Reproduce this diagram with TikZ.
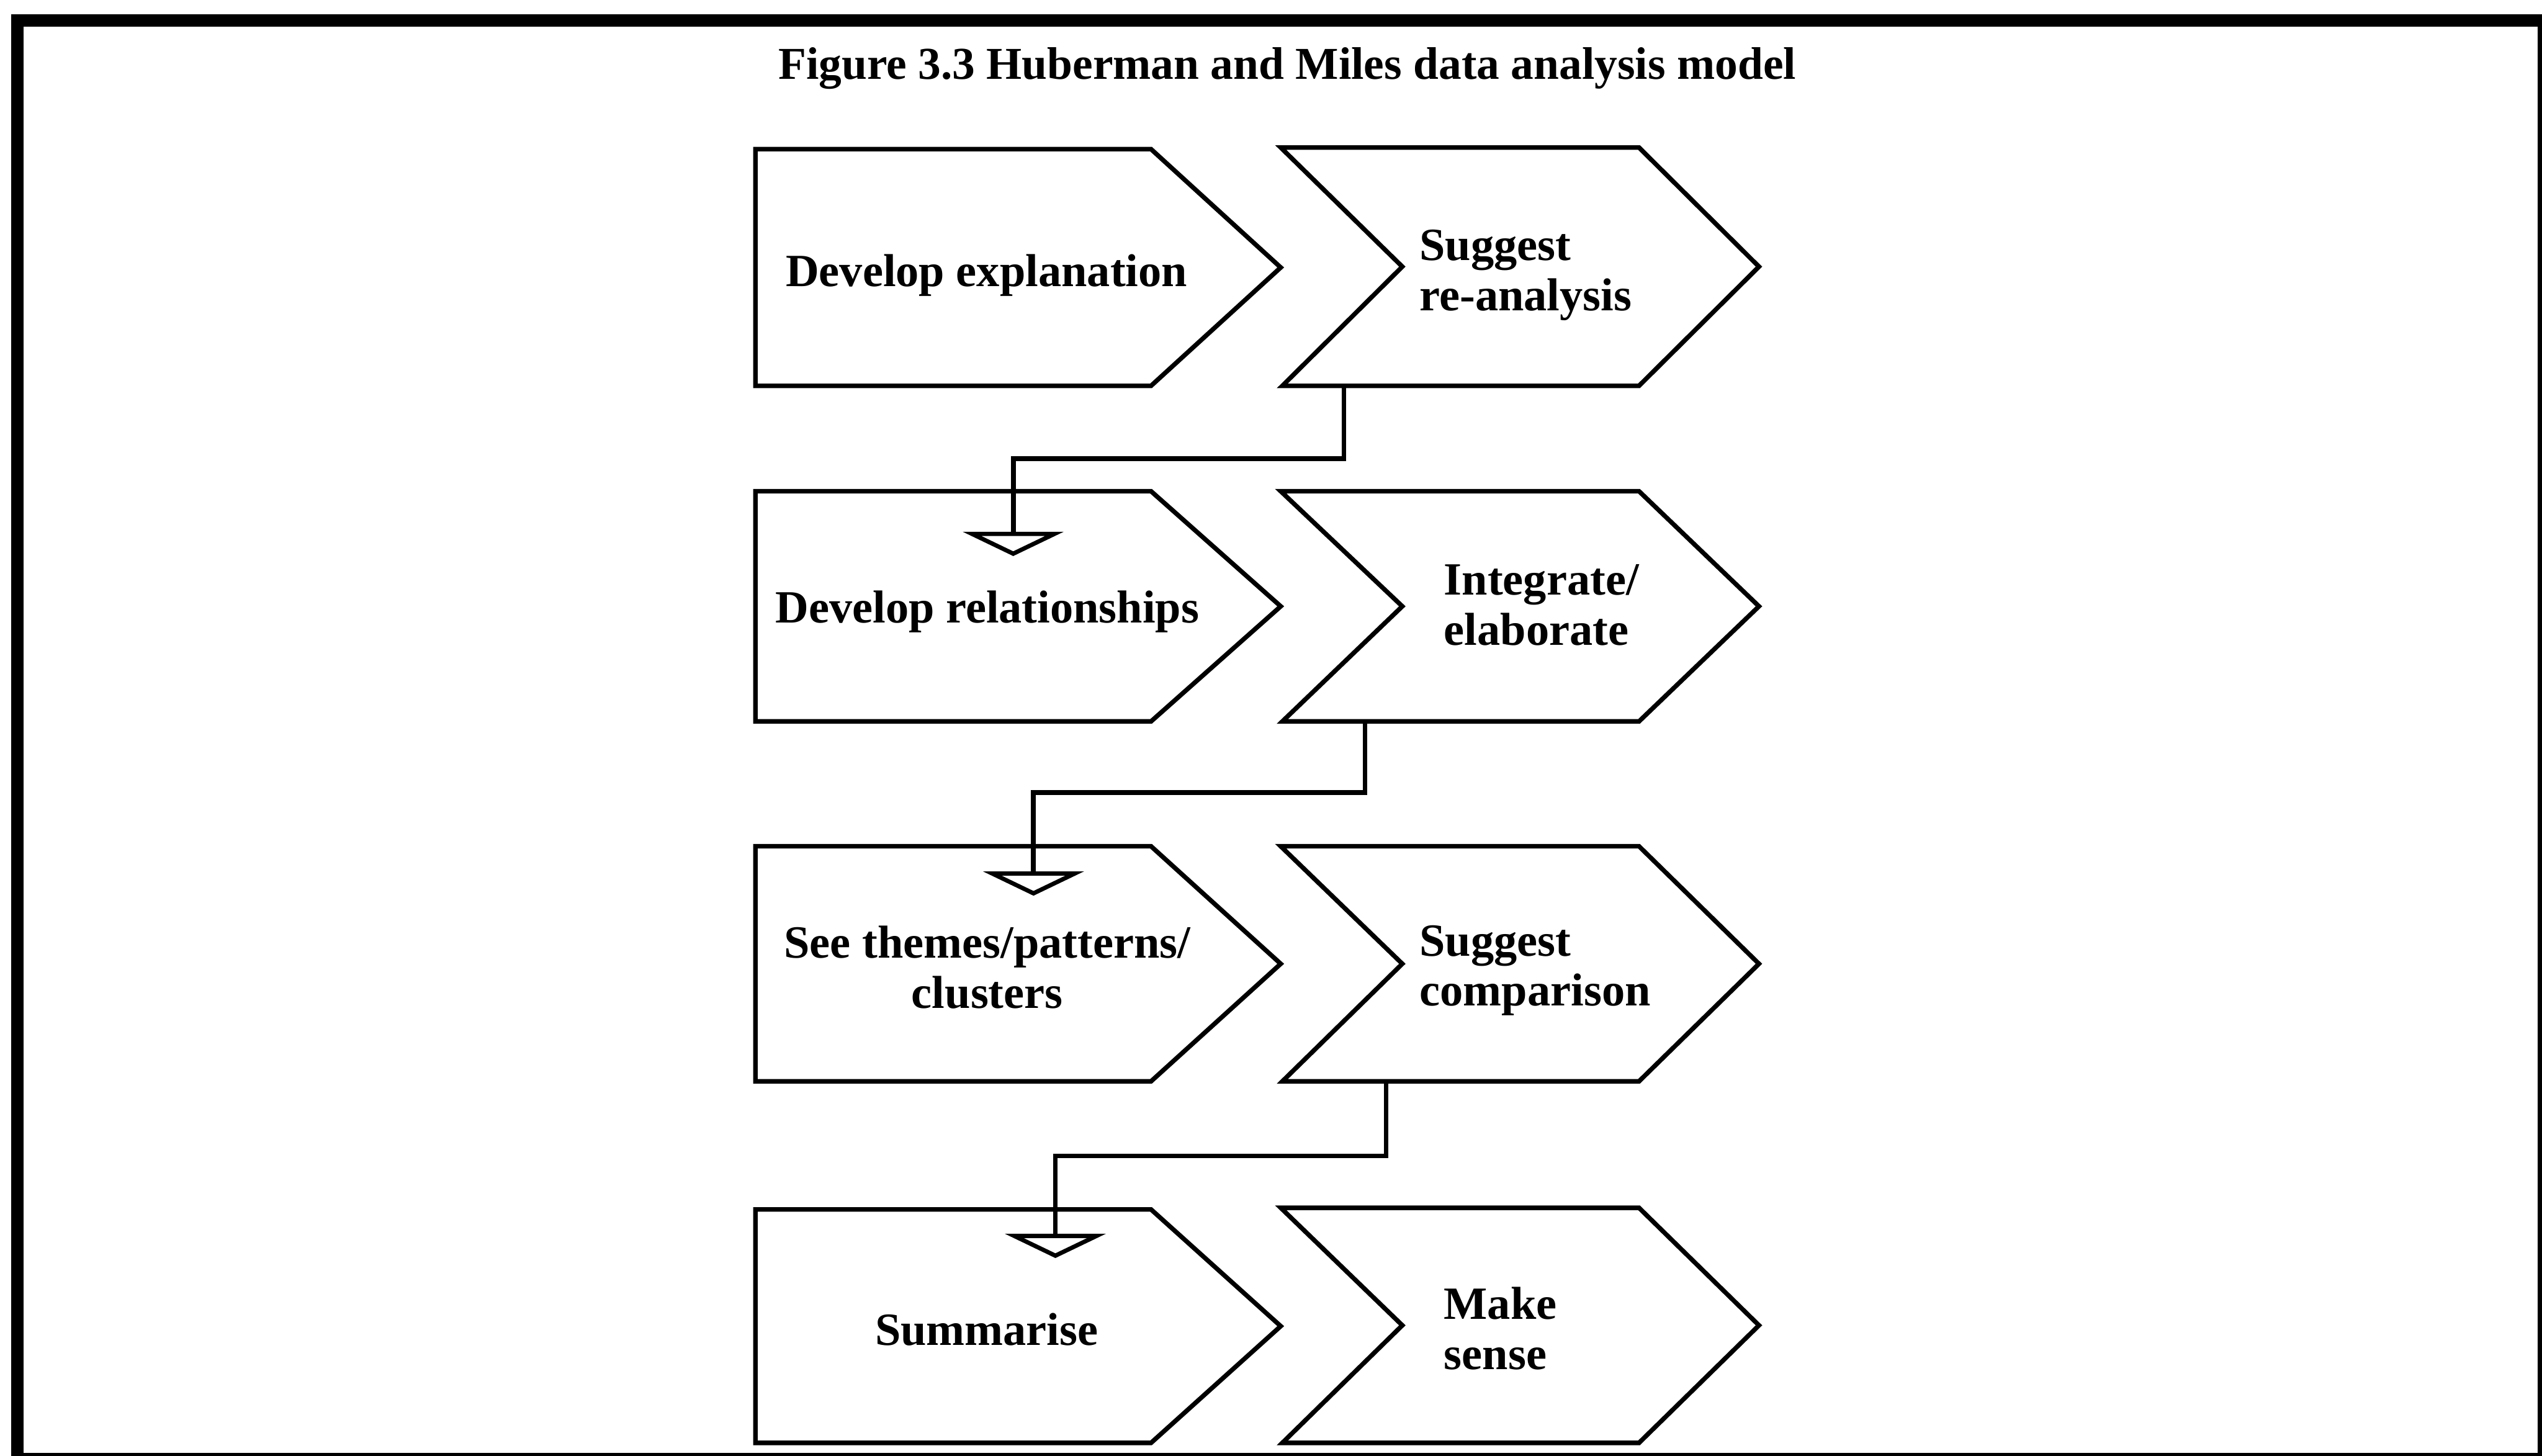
\documentclass[tikz,border=0pt]{standalone}
\usepackage{fontspec}
\setmainfont{Liberation Serif}
\usetikzlibrary{arrows.meta}

% flat-backed arrow box on the left of each row
\newcommand\leftstep[3]{% name, top, bottom
  \draw[stepline] (466,#2) -- (710,#2) -- (790,{(#2+#3)/2}) -- (710,#3) -- (466,#3) -- cycle;
}
% notched chevron on the right of each row
\newcommand\rightstep[3]{% name, top, bottom
  \draw[stepline] (790,#2) -- (1011,#2) -- (1085,{(#2+#3)/2}) -- (1011,#3) -- (791,#3) -- (865,{(#2+#3)/2}) -- cycle;
}

\begin{document}
\begin{tikzpicture}[x=0.01cm,y=-0.01cm,
  stepline/.style={line width=0.8pt, line join=miter},
  conn/.style={line width=0.85pt,
    -{Triangle[open, length=0.15cm, width=0.62cm, line width=0.75pt]}},
  lbl/.style={font=\bfseries\fontsize{8.1}{8.8}\selectfont, inner sep=0pt},
  ttl/.style={font=\bfseries\fontsize{8}{9}\selectfont, inner sep=0pt},
  frame/.style={line width=2.2pt}]
\useasboundingbox (0,0) rectangle (1568,898);

% outer frame
\draw[frame] (10.8,12.6) rectangle (1569,900);

% title
\node[ttl, anchor=base] (title) at (794,49) {Figure 3.3 Huberman and Miles data analysis model};

% rows of steps
\leftstep{l1}{92}{238}
\rightstep{r1}{91}{238}
\leftstep{l2}{303}{445}
\rightstep{r2}{303}{445}
\leftstep{l3}{522}{667}
\rightstep{r3}{522}{667}
\leftstep{l4}{746}{890}
\rightstep{r4}{745}{890}

% labels (two-line labels are placed by the baseline of their last line)
\node[lbl, anchor=base] (t1) at (608.5,176.6) {Develop explanation};
\node[lbl, anchor=base west, align=left] (u1) at (875,191.5) {Suggest\\re-analysis};
\node[lbl, anchor=base] (t2) at (609,384) {Develop relationships};
\node[lbl, anchor=base west, align=left] (u2) at (890,398) {Integrate/\\elaborate};
\node[lbl, anchor=base, align=center] (t3) at (609,621.8) {See themes/patterns/\\clusters};
\node[lbl, anchor=base west, align=left] (u3) at (875,620.5) {Suggest\\comparison};
\node[lbl, anchor=base] (t4) at (608.6,829.6) {Summarise};
\node[lbl, anchor=base west, align=left] (u4) at (890,844.8) {Make\\sense};

% connector end points
\coordinate (r1out) at (829,238);
\coordinate (r2out) at (842,445);
\coordinate (r3out) at (855,667);
\coordinate (k1) at (625,283);
\coordinate (k2) at (637.5,489);
\coordinate (k3) at (651,713);
\coordinate (in2) at (625,343);
\coordinate (in3) at (637.5,552.5);
\coordinate (in4) at (651,776);

% connectors
\draw[conn] (r1out) |- (k1) -- (in2);
\draw[conn] (r2out) |- (k2) -- (in3);
\draw[conn] (r3out) |- (k3) -- (in4);
\end{tikzpicture}
\end{document}
